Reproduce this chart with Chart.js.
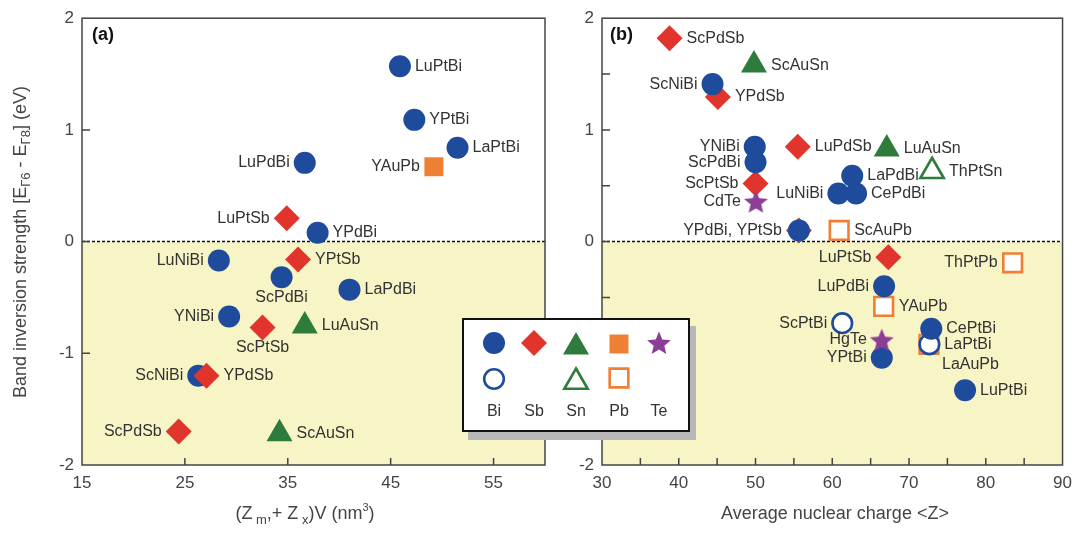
<!DOCTYPE html>
<html>
<head>
<meta charset="utf-8">
<script src="https://cdn.jsdelivr.net/npm/chart.js@4.4.0/dist/chart.umd.min.js"></script>
<style>
  body { margin: 0; background: #fff; width: 1080px; height: 536px; overflow: hidden; position: relative; }
  #ca { position: absolute; left: 0; top: 0; }
  #cb { position: absolute; left: 560px; top: 0; }
  #legend { position: absolute; left: 462px; top: 318px; width: 224px; height: 110px; border: 2px solid #111;
            background: #fff; box-shadow: 6px 8px 0 #b8b8b8; }
  #legend canvas { position: absolute; left: 0; top: 0; }
</style>
</head>
<body>
<canvas id="ca" width="560" height="536"></canvas>
<canvas id="cb" width="520" height="536"></canvas>
<div id="legend"><canvas id="lg" width="224" height="110"></canvas></div>
<script>
// panel (a): (Zm + Zx)V vs band inversion strength
const aNames = ['LuPtBi', 'YPtBi', 'LaPtBi', 'LuPdBi', 'YPdBi', 'LuNiBi', 'ScPdBi', 'LaPdBi', 'YNiBi', 'ScNiBi',
                'LuPtSb', 'YPtSb', 'ScPtSb', 'YPdSb', 'ScPdSb', 'LuAuSn', 'ScAuSn', 'YAuPb']
const aX = [45.9, 47.3, 51.5, 36.65, 37.9, 28.3, 34.4, 41.0, 29.3, 26.3,
            34.9, 36.0, 32.55, 27.1, 24.4, 36.65, 34.2, 49.2]
const aY = [1.57, 1.09, 0.84, 0.705, 0.08, -0.17, -0.32, -0.43, -0.67, -1.20,
            0.21, -0.16, -0.77, -1.20, -1.70, -0.755, -1.72, 0.67]
const aKind = ['Bi', 'Bi', 'Bi', 'Bi', 'Bi', 'Bi', 'Bi', 'Bi', 'Bi', 'Bi',
               'Sb', 'Sb', 'Sb', 'Sb', 'Sb', 'Sn', 'Sn', 'Pb']
const aXTicks = [15, 25, 35, 45, 55]
const aXMarks = [25, 35, 45, 55]
const aYMarks = [-1, 0, 1]

// panel (b): average nuclear charge vs band inversion strength
const bNames = ['ScNiBi', 'YNiBi', 'ScPdBi', 'YPdBi', 'LaPdBi', 'LuNiBi', 'CePdBi', 'LuPdBi', 'YPtBi', 'CePtBi', 'LuPtBi',
                'ScPtBi', 'LaPtBi',
                'ScPdSb', 'YPdSb', 'LuPdSb', 'ScPtSb', 'YPdBi, YPtSb', 'LuPtSb',
                'ScAuSn', 'LuAuSn', 'ThPtSn',
                'ScAuPb', 'ThPtPb', 'YAuPb', 'LaAuPb',
                'CdTe', 'HgTe']
const bX = [44.4, 49.9, 50.0, 55.65, 62.6, 60.8, 63.1, 66.75, 66.45, 72.9, 77.3,
            61.3, 72.65,
            38.8, 45.1, 55.5, 50.0, 55.65, 67.3,
            49.8, 67.1, 73.0,
            60.9, 83.5, 66.7, 72.6,
            50.05, 66.45]
const bY = [1.41, 0.85, 0.71, 0.10, 0.59, 0.43, 0.43, -0.40, -1.04, -0.78, -1.33,
            -0.73, -0.92,
            1.82, 1.295, 0.85, 0.52, 0.10, -0.14,
            1.58, 0.83, 0.63,
            0.10, -0.19, -0.58, -0.92,
            0.36, -0.88]
const bKind = ['Bi', 'Bi', 'Bi', 'Bi', 'Bi', 'Bi', 'Bi', 'Bi', 'Bi', 'Bi', 'Bi',
               'BiO', 'BiO',
               'Sb', 'Sb', 'Sb', 'Sb', 'Sb', 'Sb',
               'Sn', 'Sn', 'SnO',
               'PbO', 'PbO', 'PbO', 'PbO',
               'Te', 'Te']
const bXMarks = [35, 40, 45, 50, 55, 60, 65, 70, 75, 80, 85]
const bYMarks = [-1.5, -1, -0.5, 0, 0.5, 1, 1.5]

const legendNames = ['Bi', 'Sb', 'Sn', 'Pb', 'Te']

// label placement (l / r / b = below / br = below right / none)
const aSide = {LuPdBi: 'l', LuNiBi: 'l', ScPdBi: 'b', YNiBi: 'l', ScNiBi: 'l', LuPtSb: 'l', ScPtSb: 'b',
               ScPdSb: 'l', YAuPb: 'l'}
const bSide = {ScNiBi: 'l', YNiBi: 'l', ScPdBi: 'l', YPdBi: 'none', LuNiBi: 'l', LuPdBi: 'l', YPtBi: 'l',
               ScPtBi: 'l', ScPtSb: 'l', 'YPdBi, YPtSb': 'l', LuPtSb: 'l', ThPtPb: 'l', LaAuPb: 'br',
               CdTe: 'l', HgTe: 'l'}

const BLUE = '#1f4b9c', RED = '#e1342c', GREEN = '#2e7b3c', ORANGE = '#ee7f33', PURPLE = '#8c3e97'
const FONT = '"Liberation Sans", Arial, sans-serif'

function starPath(g, cx, cy, R, r) {
    g.beginPath()
    for (let i = 0; i < 10; i++) {
        const a = -Math.PI / 2 + i * Math.PI / 5
        const rr = i % 2 ? r : R
        g.lineTo(cx + rr * Math.cos(a), cy + rr * Math.sin(a))
    }
    g.closePath()
}
function starCanvas(color, R) {
    const c = document.createElement('canvas')
    c.width = c.height = Math.ceil(R * 2) + 2
    const g = c.getContext('2d')
    starPath(g, c.width / 2, c.height / 2 + R * 0.1, R, R * 0.45)
    g.fillStyle = color
    g.fill()
    return c
}

const kinds = {
    Te:  {style: starCanvas(PURPLE, 12.5), r: 12, bg: PURPLE, bc: PURPLE, bw: 0, off: 15},
    Bi:  {style: 'circle', r: 11, bg: BLUE, bc: BLUE, bw: 0, off: 15},
    BiO: {style: 'circle', r: 9.8, bg: '#fff', bc: BLUE, bw: 2.6, off: 15},
    Sb:  {style: 'rectRot', r: 13, bg: RED, bc: RED, bw: 0, off: 17},
    Sn:  {style: 'triangle', r: 15, bg: GREEN, bc: GREEN, bw: 0, off: 17},
    SnO: {style: 'triangle', r: 13.5, bg: '#fff', bc: GREEN, bw: 2.6, off: 17},
    Pb:  {style: 'rect', r: 13.4, bg: ORANGE, bc: ORANGE, bw: 0, off: 14},
    PbO: {style: 'rect', r: 13.2, bg: '#fff', bc: ORANGE, bw: 2.6, off: 15}
}

function buildDatasets(names, xs, ys, kindList, drawOrder) {
    return drawOrder.filter(k => kindList.includes(k)).map((k, i) => {
        const st = kinds[k]
        const idx = kindList.map((v, j) => v === k ? j : -1).filter(j => j >= 0)
        return {
            data: idx.map(j => ({x: xs[j], y: ys[j]})),
            names: idx.map(j => names[j]),
            labelOffset: st.off,
            order: i,
            pointStyle: st.style,
            pointRadius: st.r,
            backgroundColor: st.bg,
            borderColor: st.bc,
            borderWidth: st.bw,
            clip: false
        }
    })
}

function drawRich(ctx, parts, x, y) {
    let total = 0
    parts.forEach(p => { ctx.font = p.s + 'px ' + FONT; p.w = ctx.measureText(p.t).width; total += p.w })
    let cx = x - total / 2
    parts.forEach(p => {
        ctx.font = p.s + 'px ' + FONT
        ctx.fillText(p.t, cx, y + (p.dy || 0))
        cx += p.w
    })
}

function panelPlugin(cfg) {
    return {
        id: 'panel',
        beforeDatasetsDraw(chart) {
            const {ctx, chartArea: a, scales: {x, y}} = chart
            const y0 = y.getPixelForValue(0)
            ctx.save()
            ctx.fillStyle = '#f7f4c6'
            ctx.fillRect(a.left, y0, a.right - a.left, a.bottom - y0)
            ctx.strokeStyle = '#111'
            ctx.lineWidth = 1.5
            ctx.setLineDash([3, 2])
            ctx.beginPath(); ctx.moveTo(a.left, y0); ctx.lineTo(a.right, y0); ctx.stroke()
            ctx.setLineDash([])
            ctx.strokeStyle = '#444'
            ctx.lineWidth = 1.5
            ctx.strokeRect(a.left, a.top, a.right - a.left, a.bottom - a.top)
            ctx.beginPath()
            cfg.xMarks.forEach(v => {
                const px = x.getPixelForValue(v)
                ctx.moveTo(px, a.bottom); ctx.lineTo(px, a.bottom - 7)
            })
            cfg.yMarks.forEach(v => {
                const py = y.getPixelForValue(v)
                ctx.moveTo(a.left, py); ctx.lineTo(a.left + 8, py)
            })
            ctx.stroke()
            ctx.restore()
        },
        afterDatasetsDraw(chart) {
            const ctx = chart.ctx
            ctx.save()
            ctx.font = '16px ' + FONT
            ctx.fillStyle = '#333'
            ctx.textBaseline = 'middle'
            chart.data.datasets.forEach((ds, i) => {
                chart.getDatasetMeta(i).data.forEach((pt, j) => {
                    const name = ds.names[j]
                    const s = cfg.side[name] || 'r'
                    const off = ds.labelOffset
                    if (s === 'none') return
                    if (s === 'r') { ctx.textAlign = 'left'; ctx.fillText(name, pt.x + off, pt.y) }
                    else if (s === 'l') { ctx.textAlign = 'right'; ctx.fillText(name, pt.x - off, pt.y) }
                    else if (s === 'b') { ctx.textAlign = 'center'; ctx.fillText(name, pt.x, pt.y + 20) }
                    else if (s === 'br') { ctx.textAlign = 'left'; ctx.fillText(name, pt.x + 13, pt.y + 20) }
                })
            })
            ctx.textAlign = 'left'
            ctx.font = 'bold 18px ' + FONT
            ctx.fillStyle = '#111'
            ctx.fillText(cfg.tag, chart.chartArea.left + cfg.tagX, 35)
            ctx.restore()
        },
        afterDraw(chart) {
            const ctx = chart.ctx
            ctx.save()
            ctx.fillStyle = '#444'
            ctx.textBaseline = 'middle'
            ctx.textAlign = 'left'
            if (cfg.yTitle) {
                ctx.translate(21, 242)
                ctx.rotate(-Math.PI / 2)
                drawRich(ctx, cfg.yTitle, 0, 0)
                ctx.setTransform(1, 0, 0, 1, 0, 0)
            }
            drawRich(ctx, cfg.xTitle, cfg.xTitleX, 514)
            ctx.restore()
        }
    }
}

function makeChart(el, datasets, xScale, cfg, yWidth) {
    return new Chart(el, {
        type: 'scatter',
        data: {datasets},
        options: {
            responsive: false,
            animation: false,
            events: [],
            layout: {padding: {left: 0, right: 13, top: 13, bottom: 0}},
            plugins: {legend: {display: false}, tooltip: {enabled: false}},
            scales: {
                x: Object.assign({
                    grid: {display: false, drawTicks: false},
                    border: {display: false},
                    ticks: {color: '#444', font: {size: 17, family: FONT}, padding: 8, maxRotation: 0},
                    afterFit: s => { s.height = 71 }
                }, xScale),
                y: {
                    min: -2, max: 2,
                    grid: {display: false, drawTicks: false},
                    border: {display: false},
                    ticks: {stepSize: 1, color: '#444', font: {size: 17, family: FONT}, padding: 8},
                    afterFit: s => { s.width = yWidth }
                }
            }
        },
        plugins: [panelPlugin(cfg)]
    })
}

makeChart(document.getElementById('ca'),
    buildDatasets(aNames, aX, aY, aKind, ['Sb', 'Bi', 'Sn', 'Pb']),
    {min: 15, max: 60, afterBuildTicks: s => { s.ticks = aXTicks.map(v => ({value: v})) }},
    {
        side: aSide, xMarks: aXMarks, yMarks: aYMarks, tag: '(a)', tagX: 10,
        yTitle: [{t: 'Band inversion strength [E', s: 18}, {t: 'Γ6', s: 13, dy: 5},
                 {t: ' - E', s: 18}, {t: 'Γ8', s: 13, dy: 5}, {t: '] (eV)', s: 18}],
        xTitle: [{t: '(Z', s: 18}, {t: ' m', s: 13, dy: 6}, {t: ',+ Z', s: 18}, {t: ' x', s: 13, dy: 6},
                 {t: ')V (nm', s: 18}, {t: '3', s: 11, dy: -6}, {t: ')', s: 18}],
        xTitleX: 305
    }, 82)

makeChart(document.getElementById('cb'),
    buildDatasets(bNames, bX, bY, bKind, ['Te', 'Bi', 'BiO', 'Sb', 'PbO', 'Sn', 'SnO']),
    {min: 30, max: 90, ticks: {stepSize: 10, color: '#444', font: {size: 17, family: FONT}, padding: 8, maxRotation: 0}},
    {
        side: bSide, xMarks: bXMarks, yMarks: bYMarks, tag: '(b)', tagX: 8,
        xTitle: [{t: 'Average nuclear charge <Z>', s: 18}],
        xTitleX: 275
    }, 42)

// legend box
const lg = document.getElementById('lg').getContext('2d')
function lgMark(kind, x, y) {
    const st = kinds[kind]
    lg.fillStyle = st.bg
    lg.strokeStyle = st.bc
    lg.lineWidth = st.bw
    const r = st.r
    lg.beginPath()
    if (kind === 'Te') { starPath(lg, x, y + 1, 12.5, 5.6) }
    else if (st.style === 'circle') lg.arc(x, y, r, 0, Math.PI * 2)
    else if (st.style === 'rectRot') { lg.moveTo(x - r, y); lg.lineTo(x, y - r); lg.lineTo(x + r, y); lg.lineTo(x, y + r); lg.closePath() }
    else if (st.style === 'triangle') { lg.moveTo(x, y - r); lg.lineTo(x + 0.866 * r, y + r / 2); lg.lineTo(x - 0.866 * r, y + r / 2); lg.closePath() }
    else if (st.style === 'rect') { const h = r * Math.SQRT1_2; lg.rect(x - h, y - h, 2 * h, 2 * h) }
    lg.fill()
    if (st.bw > 0) lg.stroke()
}
const lgX = [30, 70, 112, 155, 195]
lgMark('Bi', lgX[0], 23); lgMark('Sb', lgX[1], 23); lgMark('Sn', lgX[2], 27); lgMark('Pb', lgX[3], 24); lgMark('Te', lgX[4], 23)
lgMark('BiO', lgX[0], 59); lgMark('SnO', lgX[2], 62); lgMark('PbO', lgX[3], 58)
lg.font = '16px ' + FONT
lg.fillStyle = '#333'
lg.textAlign = 'center'
lg.textBaseline = 'middle'
legendNames.forEach((n, i) => lg.fillText(n, lgX[i], 92))
</script>
</body>
</html>
